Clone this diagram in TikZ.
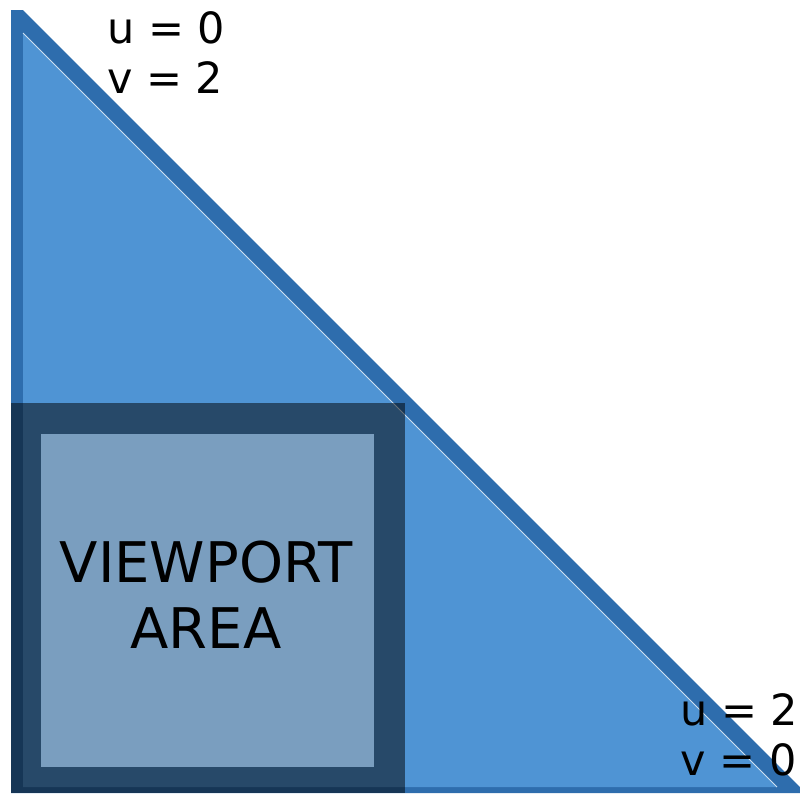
\documentclass[tikz,border=0pt]{standalone}
\usepackage{fontspec}
\setmainfont{DejaVu Sans}
\definecolor{lightblue}{HTML}{4F94D4}
\definecolor{bandblue}{HTML}{2E6DAD}
\definecolor{viewfill}{HTML}{7A9EBF}
\definecolor{edgeline}{HTML}{CFE0F0}
\begin{document}
\begin{tikzpicture}[x=1pt,y=-1pt,
  lbl/.style={anchor=base west,inner sep=0pt,font=\fontsize{43}{50}\selectfont},
  big/.style={anchor=base,inner sep=0pt,font=\fontsize{56}{66}\selectfont}]
\useasboundingbox (0,0) rectangle (800,793);
% outer band
\fill[bandblue] (11,10) -- (23,10) -- (800,787) -- (800,793) -- (11,793) -- cycle;
% inner triangle
\fill[lightblue] (23,33) -- (23,787) -- (777,787) -- cycle;
\draw[edgeline,line width=1pt] (23,33) -- (777,787);
% viewport frame (semi-transparent)
\fill[black,opacity=0.5] (11,403) rectangle (405,793);
\fill[viewfill] (41,434) rectangle (374,767);
\node[big] (vp1) at (206,582) {VIEWPORT};
\node[big] (vp2) at (206,648) {AREA};
% labels
\node[lbl] (u0) at (107,43) {u = 0};
\node[lbl] (v2) at (107,93) {v = 2};
\node[lbl] (u2) at (680,725) {u = 2};
\node[lbl] (v0) at (680,775) {v = 0};
\end{tikzpicture}
\end{document}
